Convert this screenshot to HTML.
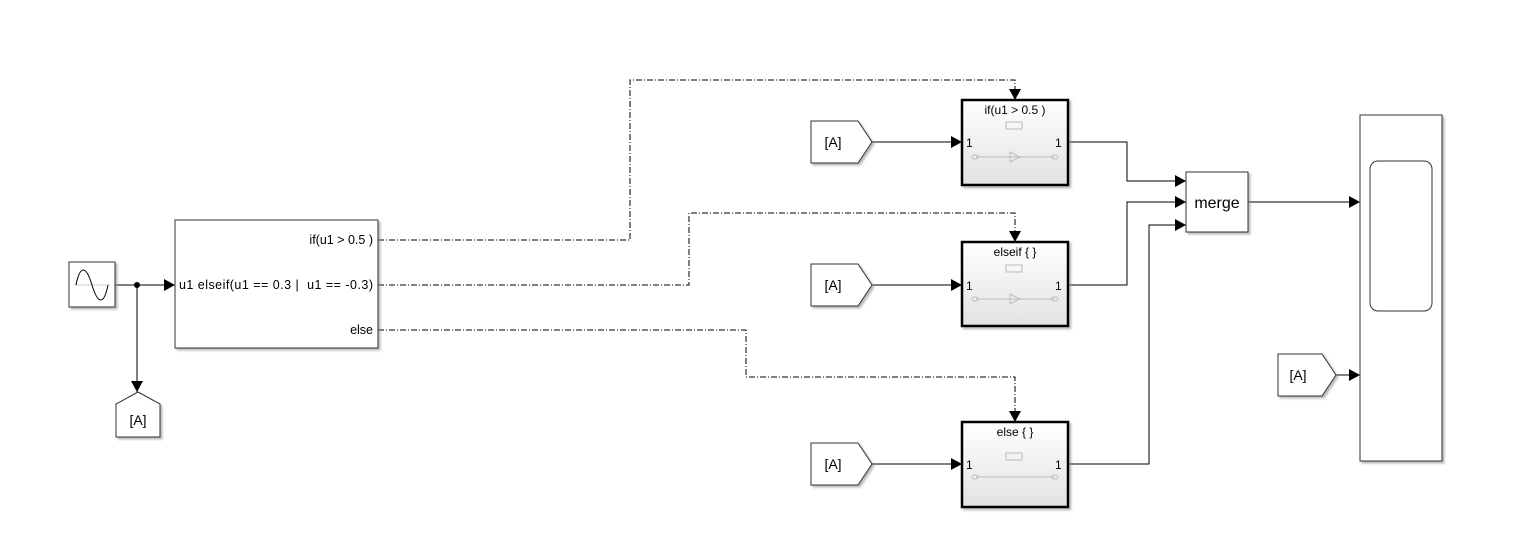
<!DOCTYPE html>
<html><head><style>body{margin:0;background:#fff}svg{display:block}text{font-family:"Liberation Sans",sans-serif}</style></head>
<body>
<svg width="1529" height="557" viewBox="0 0 1529 557" xmlns="http://www.w3.org/2000/svg">
<defs>
<marker id="a" markerWidth="11" markerHeight="12" refX="11" refY="6" orient="auto" markerUnits="userSpaceOnUse"><path d="M0,0 L11,6 L0,12 Z" fill="#000"/></marker>
<linearGradient id="g" x1="0" y1="0" x2="0" y2="1"><stop offset="0" stop-color="#fff"/><stop offset="1" stop-color="#e2e2e2"/></linearGradient>
<filter id="s"><feDropShadow dx="2" dy="2" stdDeviation="1" flood-color="#888" flood-opacity="0.6"/></filter>
</defs>
<g fill="none" stroke="#000" stroke-width="1">
<path d="M115 285 H175" marker-end="url(#a)"/>
<path d="M137 285 V392" marker-end="url(#a)"/>
<g stroke-dasharray="6,2,1,2">
<path d="M378 240 H630 V80 H1015 V100" marker-end="url(#a)"/>
<path d="M378 285 H689 V213 H1015 V242" marker-end="url(#a)"/>
<path d="M378 330 H746 V377 H1015 V422" marker-end="url(#a)"/>
</g>
<path d="M872 142 H962" marker-end="url(#a)"/>
<path d="M872 285 H962" marker-end="url(#a)"/>
<path d="M872 464 H962" marker-end="url(#a)"/>
<path d="M1068 142 H1127 V181 H1186" marker-end="url(#a)"/>
<path d="M1068 285 H1127 V202 H1186" marker-end="url(#a)"/>
<path d="M1068 464 H1149 V225 H1186" marker-end="url(#a)"/>
<path d="M1248 202 H1360" marker-end="url(#a)"/>
<path d="M1336 375 H1360" marker-end="url(#a)"/>
</g>
<circle cx="137" cy="285" r="3" fill="#000"/>
<rect x="69" y="262" width="46" height="45" fill="#fff" stroke="#333" filter="url(#s)"/>
<line x1="74" y1="285" x2="110" y2="285" stroke="#ccc"/>
<path d="M76 285 C80 265,86 265,92 285 C98 305,104 305,108 285" fill="none" stroke="#000"/>
<path d="M116 437 V404 L138 392 L160 404 V437 Z" fill="#fff" stroke="#333" filter="url(#s)"/>
<text x="138" y="425" font-size="14" text-anchor="middle">[A]</text>
<rect x="175" y="220" width="203" height="128" fill="#fff" stroke="#333" filter="url(#s)"/>
<g font-size="12.5">
<text x="373" y="244" text-anchor="end">if(u1 &gt; 0.5 )</text>
<text x="179" y="289" textLength="194" lengthAdjust="spacing" xml:space="preserve">u1 elseif(u1 == 0.3 |  u1 == -0.3)</text>
<text x="373" y="334" text-anchor="end">else</text>
</g>
<g fill="#fff" stroke="#333" filter="url(#s)">
<path d="M811 121 H858 L872 142 L858 163 H811 Z"/>
<path d="M811 264 H858 L872 285 L858 306 H811 Z"/>
<path d="M811 443 H858 L872 464 L858 485 H811 Z"/>
<path d="M1278 354 H1322 L1336 375 L1322 396 H1278 Z"/>
</g>
<g font-size="14" text-anchor="middle">
<text x="833" y="147">[A]</text><text x="833" y="290">[A]</text><text x="833" y="469">[A]</text><text x="1298" y="380">[A]</text>
</g>
<rect x="962" y="100" width="106" height="85" fill="url(#g)" stroke="#000" stroke-width="2.5" filter="url(#s)"/>
<rect x="962" y="242" width="106" height="84" fill="url(#g)" stroke="#000" stroke-width="2.5" filter="url(#s)"/>
<rect x="962" y="422" width="106" height="85" fill="url(#g)" stroke="#000" stroke-width="2.5" filter="url(#s)"/>
<g font-size="12" text-anchor="middle">
<text x="1015" y="114">if(u1 &gt; 0.5 )</text>
<text x="1015" y="256">elseif { }</text>
<text x="1015" y="436">else { }</text>
</g>
<g font-size="12">
<text x="966" y="147">1</text><text x="1055" y="147">1</text>
<text x="966" y="290">1</text><text x="1055" y="290">1</text>
<text x="966" y="469">1</text><text x="1055" y="469">1</text>
</g>
<g fill="none" stroke="#bbb">
<rect x="1006" y="122" width="16" height="7"/><rect x="1006" y="265" width="16" height="7"/><rect x="1006" y="453" width="16" height="7"/>
<path d="M976 157 H1054 M1010 152 L1020 157 L1010 162 Z"/>
<path d="M976 299 H1054 M1010 294 L1020 299 L1010 304 Z"/>
<path d="M976 477 H1054"/>
<rect x="972" y="155" width="6" height="4" rx="2"/><rect x="1052" y="155" width="6" height="4" rx="2"/>
<rect x="972" y="297" width="6" height="4" rx="2"/><rect x="1052" y="297" width="6" height="4" rx="2"/>
<rect x="972" y="475" width="6" height="4" rx="2"/><rect x="1052" y="475" width="6" height="4" rx="2"/>
</g>
<rect x="1186" y="172" width="62" height="60" fill="#fff" stroke="#333" filter="url(#s)"/>
<text x="1217" y="208" font-size="16" text-anchor="middle">merge</text>
<rect x="1360" y="115" width="82" height="346" fill="#fff" stroke="#333" filter="url(#s)"/>
<rect x="1370" y="161" width="62" height="150" rx="8" fill="#fff" stroke="#333"/>
</svg>
</body></html>
